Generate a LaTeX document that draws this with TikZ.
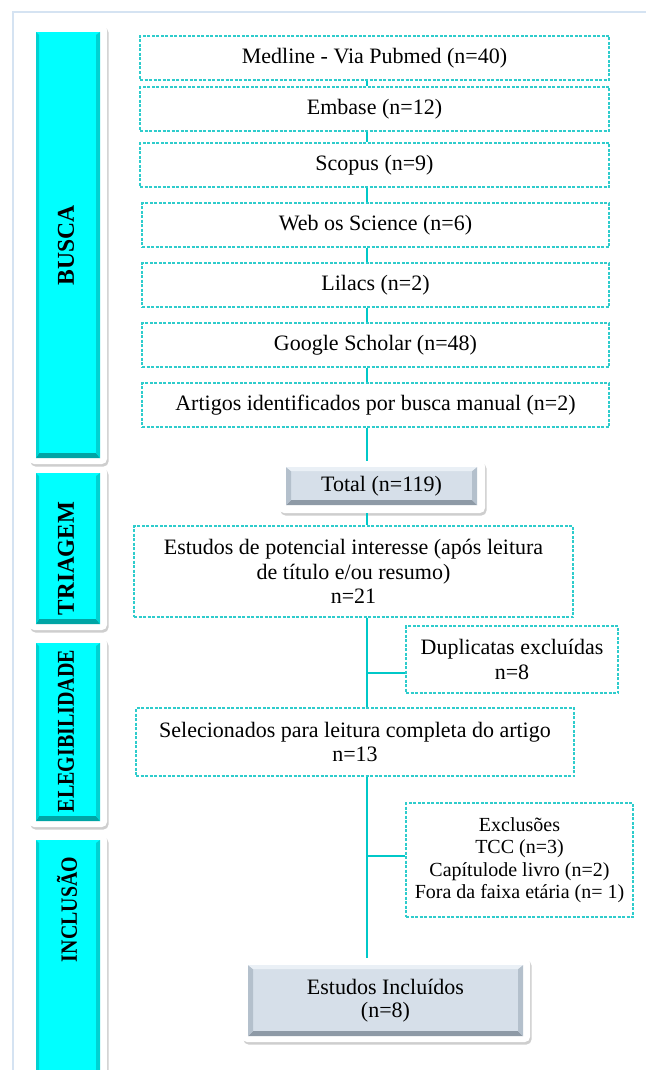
\documentclass[tikz,border=0pt]{standalone}
\usepackage{fontspec}
\setmainfont{Liberation Serif}
\usetikzlibrary{shadows}
\definecolor{connc}{HTML}{00C8C8}
\definecolor{dashc}{HTML}{2ECCCC}
\definecolor{cyanb}{HTML}{00FFFF}
\definecolor{cyand}{HTML}{00A5A5}
\definecolor{cyanm}{HTML}{00D2D2}
\definecolor{framec}{HTML}{D5E3F2}
\definecolor{grayb}{HTML}{D6DFE9}
\definecolor{grayd}{HTML}{8E9AA6}
\definecolor{graym}{HTML}{B4C0CC}
\definecolor{grayl}{HTML}{EAF0F6}
\tikzset{
  conn/.style={draw=connc, line width=2pt},
  dbox/.style={draw=dashc, line width=1.2pt, dash pattern=on 3pt off 1.5pt, fill=white,
    align=center, inner sep=0pt, font=\fontsize{22}{24.5}\selectfont},
  outerbox/.style={fill=white, rounded corners=5pt, inner sep=0pt,
    drop shadow={shadow xshift=1.5pt, shadow yshift=-2.5pt, opacity=0.35, fill=black!55}},
  stagebar/.style={fill=cyanb, inner sep=0pt,
    path picture={
      \fill[cyand] (path picture bounding box.south west) -- (path picture bounding box.south east)
        -- ([xshift=-4pt,yshift=5pt]path picture bounding box.south east)
        -- ([xshift=3pt,yshift=5pt]path picture bounding box.south west) -- cycle;
      \fill[cyanm] (path picture bounding box.south east) -- (path picture bounding box.north east)
        -- ([xshift=-4pt,yshift=-3pt]path picture bounding box.north east)
        -- ([xshift=-4pt,yshift=5pt]path picture bounding box.south east) -- cycle;
      \fill[cyanm] (path picture bounding box.south west) -- (path picture bounding box.north west)
        -- ([xshift=3pt,yshift=-3pt]path picture bounding box.north west)
        -- ([xshift=3pt,yshift=5pt]path picture bounding box.south west) -- cycle;
    }},
  stagelabel/.style={inner sep=0pt, font=\fontsize{21}{24}\selectfont\bfseries},
  graybar/.style={fill=grayb, inner sep=0pt, align=center, font=\fontsize{22}{23.5}\selectfont,
    path picture={
      \fill[grayd] (path picture bounding box.south west) -- (path picture bounding box.south east)
        -- ([xshift=-5pt,yshift=5pt]path picture bounding box.south east)
        -- ([xshift=5pt,yshift=5pt]path picture bounding box.south west) -- cycle;
      \fill[graym] (path picture bounding box.south east) -- (path picture bounding box.north east)
        -- ([xshift=-5pt,yshift=-4pt]path picture bounding box.north east)
        -- ([xshift=-5pt,yshift=5pt]path picture bounding box.south east) -- cycle;
      \fill[graym] (path picture bounding box.south west) -- (path picture bounding box.north west)
        -- ([xshift=5pt,yshift=-4pt]path picture bounding box.north west)
        -- ([xshift=5pt,yshift=5pt]path picture bounding box.south west) -- cycle;
      \fill[grayl] (path picture bounding box.north west) -- (path picture bounding box.north east)
        -- ([xshift=-5pt,yshift=-4pt]path picture bounding box.north east)
        -- ([xshift=5pt,yshift=-4pt]path picture bounding box.north west) -- cycle;
    }}
}
\begin{document}
\begin{tikzpicture}[x=1pt,y=-1pt]
\useasboundingbox[fill=white] (0,0) rectangle (645,1070);
% frame
\draw[framec, line width=1.5pt] (13,1072) -- (13,12) -- (647,12);

% stage bars
\node[outerbox, minimum width=78pt, minimum height=439pt] (buscaO) at (68,244.5) {};
\node[stagebar, minimum width=64pt, minimum height=426pt] (buscaB) at (68,245) {};
\node[stagelabel] (busca) at (66,245) {\rotatebox{90}{\resizebox{80pt}{16pt}{BUSCA}}};

\node[outerbox, minimum width=78pt, minimum height=163pt] (triO) at (68,548.5) {};
\node[stagebar, minimum width=64pt, minimum height=151pt] (triB) at (68,548.5) {};
\node[stagelabel] (tri) at (66,558.5) {\rotatebox{90}{\resizebox{113pt}{16pt}{TRIAGEM}}};

\node[outerbox, minimum width=78pt, minimum height=189pt] (eleO) at (68,732.5) {};
\node[stagebar, minimum width=64pt, minimum height=178pt] (eleB) at (68,732) {};
\node[stagelabel] (ele) at (66,731) {\rotatebox{90}{\resizebox{162pt}{16pt}{ELEGIBILIDADE}}};

\node[outerbox, minimum width=78pt, minimum height=250pt] (incO) at (68,960) {};
\node[stagebar, minimum width=64pt, minimum height=236pt] (incB) at (68,958) {};
\node[stagelabel] (inc) at (67,909.5) {\rotatebox{90}{\resizebox{105pt}{20pt}{INCLUSÃO}}};

% search boxes
\coordinate (spine) at (367,0);
\node[dbox, minimum width=469pt, minimum height=44pt] (medline) at (374.5,58) {Medline - Via Pubmed (n=40)};
\node[dbox, minimum width=469pt, minimum height=44pt] (embase) at (374.5,109) {Embase (n=12)};
\node[dbox, minimum width=469pt, minimum height=44pt] (scopus) at (374.5,165) {Scopus (n=9)};
\node[dbox, minimum width=467pt, minimum height=44pt] (wos) at (375.5,225) {Web os Science (n=6)};
\node[dbox, minimum width=467pt, minimum height=44pt] (lilacs) at (375.5,285) {Lilacs (n=2)};
\node[dbox, minimum width=467pt, minimum height=44pt] (google) at (375.5,345) {Google Scholar (n=48)};
\node[dbox, minimum width=467pt, minimum height=44pt] (manual) at (375.5,405) {Artigos identificados por busca manual (n=2)};

% total
\node[outerbox, minimum width=206pt, minimum height=52pt] (totalO) at (382,487) {};
\node[graybar, minimum width=191pt, minimum height=38pt] (total) at (381.5,486) {Total (n=119)};

% screening
\node[dbox, minimum width=439pt, minimum height=91pt] (potencial) at (353.5,571.5)
  {Estudos de potencial interesse (após leitura\\de título e/ou resumo)\\n=21};
\node[dbox, minimum width=212pt, minimum height=67pt] (dup) at (512,659.5)
  {Duplicatas excluídas\\n=8};
\node[dbox, minimum width=438pt, minimum height=68pt] (selec) at (355,742)
  {Selecionados para leitura completa do artigo\\n=13};
\node[dbox, minimum width=227pt, minimum height=114pt, font=\fontsize{20}{22.5}\selectfont] (excl) at (519.5,860)
  {Exclusões\\TCC (n=3)\\Capítulode livro (n=2)\\Fora da faixa etária (n= 1)};

% included
\node[outerbox, minimum width=288pt, minimum height=84pt] (inclO) at (386,1000) {};
\node[graybar, minimum width=275pt, minimum height=71pt] (incl) at (385.5,1000.5) {Estudos Incluídos\\(n=8)};

% connectors
\draw[conn] (medline.south -| spine) -- (embase.north -| spine);
\draw[conn] (embase.south -| spine) -- (scopus.north -| spine);
\draw[conn] (scopus.south -| spine) -- (wos.north -| spine);
\draw[conn] (wos.south -| spine) -- (lilacs.north -| spine);
\draw[conn] (lilacs.south -| spine) -- (google.north -| spine);
\draw[conn] (google.south -| spine) -- (manual.north -| spine);
\draw[conn] (manual.south -| spine) -- (totalO.north -| spine);
\draw[conn] (totalO.south -| spine) -- (potencial.north -| spine);
\draw[conn] (potencial.south -| spine) -- (selec.north -| spine);
\draw[conn] ([yshift=-13.5pt]dup.west -| spine) -- ([yshift=-13.5pt]dup.west);
\draw[conn] (selec.south -| spine) -- (inclO.north -| spine);
\draw[conn] ([yshift=4pt]excl.west -| spine) -- ([yshift=4pt]excl.west);
\end{tikzpicture}
\end{document}
